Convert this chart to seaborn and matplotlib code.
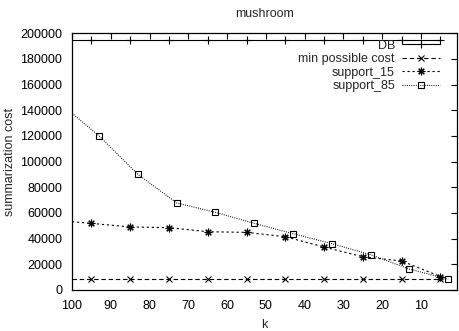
import matplotlib
matplotlib.use("Agg")
import matplotlib.pyplot as plt
import seaborn as sns
import pandas as pd

k_main = [100, 95, 85, 75, 65, 55, 45, 35, 25, 15, 5]
db = [195000, 195000, 195000, 195000, 195000, 195000, 195000, 195000, 195000, 195000, 195000]
min_cost = [8300, 8300, 8300, 8300, 8300, 8300, 8300, 8300, 8300, 8300, 8300]
support_15 = [53200, 51900, 49100, 48600, 45400, 44900, 41500, 33500, 25900, 22600, 10500]
k_85 = [100, 93, 83, 73, 63, 53, 43, 33, 23, 13, 3]
support_85 = [137700, 120000, 90100, 67800, 60500, 51900, 43900, 36100, 27500, 16300, 8400]

x_ticks = [100, 90, 80, 70, 60, 50, 40, 30, 20, 10]
y_ticks = [0, 20000, 40000, 60000, 80000, 100000, 120000, 140000, 160000, 180000, 200000]

sns.set_style("white")
plt.rcParams['font.family'] = ['Liberation Sans', 'DejaVu Sans']
plt.rcParams['font.size'] = 9

fig = plt.figure(figsize=(4.6, 3.31), dpi=100)
ax = fig.add_axes([0.1565, 0.1239, 0.9928 - 0.1565, 0.8994 - 0.1239])

asterisk = (8, 2, 0)
series = [
    ("DB", k_main, db, dict(linestyle="-", marker="+", markersize=5.5)),
    ("min possible cost", k_main, min_cost, dict(linestyle=(0, (4, 2.5)), marker="x", markersize=4)),
    ("support_15", k_main, support_15, dict(linestyle=(0, (2, 2.5)), marker=asterisk, markersize=5.5)),
    ("support_85", k_85, support_85, dict(linestyle=(0, (0.8, 1.2)), marker="s", markersize=4.5,
                                          markerfacecolor="none")),
]

for name, xs, ys, style in series:
    df = pd.DataFrame({"k": xs, "cost": ys})
    sns.lineplot(data=df, x="k", y="cost", ax=ax, sort=False, color="black", linewidth=0.8,
                 markeredgewidth=0.8, markeredgecolor="black",
                 markevery=list(range(1, len(xs))), label=name, **style)

ax.set_xlim(100, 0.8)
ax.set_ylim(0, 200000)
ax.set_xticks(x_ticks)
ax.set_yticks(y_ticks)
ax.set_xticklabels([str(v) for v in x_ticks])
ax.set_yticklabels([str(v) for v in y_ticks])
ax.tick_params(direction="in", length=4, width=0.8, top=True, right=True, labelsize=9, pad=7,
               colors="black")
for s in ax.spines.values():
    s.set_color("black")
    s.set_linewidth(0.9)

ax.set_title("mushroom", fontsize=9, pad=12)
ax.set_xlabel("k", fontsize=9, labelpad=5)
ax.set_ylabel("summarization cost", fontsize=9, labelpad=3)

leg = ax.legend(loc="upper right", bbox_to_anchor=(0.9566, 0.975), frameon=False, markerfirst=False,
                handlelength=3.0, handletextpad=0.6, labelspacing=0.12, borderpad=0, borderaxespad=0,
                fontsize=9)

fig.savefig("out.png", dpi=100)
